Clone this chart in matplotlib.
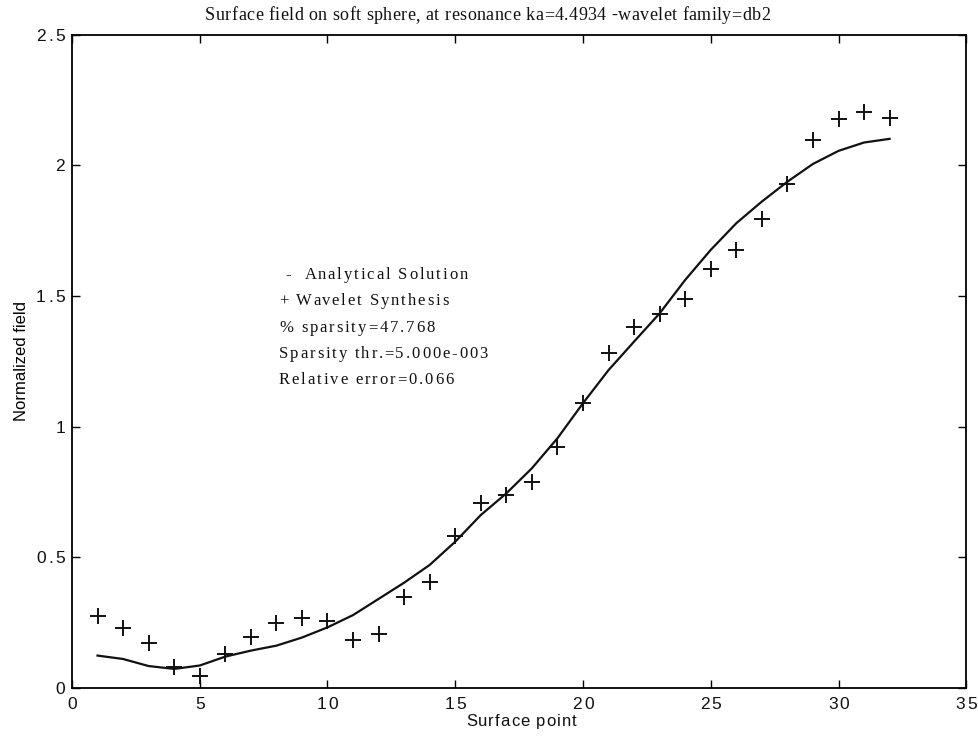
import numpy as np
import matplotlib.pyplot as plt
from matplotlib.font_manager import FontProperties
from matplotlib.transforms import offset_copy, IdentityTransform

# surface points 1..32
points = np.arange(1, 33)

# analytical solution (solid line)
analytical = [0.124, 0.111, 0.084, 0.073, 0.086, 0.120, 0.143, 0.162,
              0.193, 0.232, 0.279, 0.341, 0.403, 0.471, 0.560, 0.662,
              0.745, 0.841, 0.956, 1.090, 1.217, 1.326, 1.434, 1.562,
              1.677, 1.779, 1.862, 1.938, 2.006, 2.056, 2.088, 2.102]

# wavelet synthesis (+ markers)
wavelet = [0.276, 0.231, 0.171, 0.080, 0.046, 0.129, 0.196, 0.248,
           0.268, 0.256, 0.184, 0.208, 0.347, 0.407, 0.582, 0.707,
           0.739, 0.787, 0.924, 1.092, 1.281, 1.381, 1.431, 1.489,
           1.603, 1.677, 1.794, 1.930, 2.096, 2.178, 2.205, 2.183]

xticks = [0, 5, 10, 15, 20, 25, 30, 35]
yticks = [0, 0.5, 1, 1.5, 2, 2.5]
ytick_labels = ['0', '0.5', '1', '1.5', '2', '2.5']

info_lines = [" -  Analytical Solution",
              "+ Wavelet Synthesis",
              "% sparsity=47.768",
              "Sparsity thr.=5.000e-003",
              "Relative error=0.066"]

title = 'Surface field on soft sphere, at resonance ka=4.4934 -wavelet family=db2'

serif = FontProperties(family='Liberation Serif', size=12)
serif_t = FontProperties(family='Liberation Serif', size=13)
sans = FontProperties(family='Liberation Sans', size=12.5)
sans_l = FontProperties(family='Liberation Sans', size=12)

fig = plt.figure(figsize=(9.79, 7.42), dpi=100)
ax = fig.add_axes([0.0735, 0.0728, 0.9135, 0.8802])
renderer = fig.canvas.get_renderer()


def tw(s, fp):
    return renderer.get_text_width_height_descent(s, fp, ismath=False)


# old matlab export spreads the letters out, so place chars one by one
def spaced_text(x, y, s, fp, track, trans, ha='left', dx=0, dy=0):
    bar = tw('|', fp)[0]
    total = tw(s + '|', fp)[0] - bar + (len(s) - 1) * track
    shift = {'left': 0, 'center': -total / 2, 'right': -total}[ha]
    for i, ch in enumerate(s):
        if ch == ' ':
            continue
        w = tw(s[:i] + '|', fp)[0] - bar
        tr = offset_copy(trans, fig=fig, x=dx + shift + w + i * track, y=dy,
                         units='dots')
        fig.text(x, y, ch, fontproperties=fp, transform=tr, va='baseline',
                 ha='left', color='#111111')


ax.plot(points, analytical, color='#111111', lw=1.6)
ax.plot(points, wavelet, ls='none', marker='+', color='#111111',
        markersize=11.5, mew=1.4)

ax.set_xlim(0, 35)
ax.set_ylim(0, 2.5)
ax.set_xticks(xticks)
ax.set_yticks(yticks)
ax.tick_params(direction='in', length=6, width=1, top=True, right=True,
               labelbottom=False, labelleft=False)
for s in ax.spines.values():
    s.set_linewidth(1.3)

# tick labels drawn by hand so they get the same letter spacing
digit_h = tw('0', sans)[1]
xtr = ax.get_xaxis_transform()
ytr = ax.get_yaxis_transform()
for v in xticks:
    spaced_text(v, 0, str(v), sans, 1.8, xtr, ha='center', dy=-9 - digit_h)
for v, lab in zip(yticks, ytick_labels):
    spaced_text(0, v, lab, sans, 2.4, ytr, ha='right', dx=-7, dy=-digit_h / 2)

# x label
spaced_text(0.5, 0, 'Surface point', sans_l, 1.0, ax.transAxes, ha='center',
            dx=2, dy=-38)
ax.set_ylabel('Normalized field',
              fontproperties=FontProperties(family='Liberation Sans', size=12),
              labelpad=31)

# title, in pixels from the bottom-left of the figure
spaced_text(205, 742 - 20, title, serif_t, 0.45, IdentityTransform())

# info block in data coordinates
y0 = 1.585
for i, t in enumerate(info_lines):
    spaced_text(8.1, y0 - 0.02 - i * 0.1005, t, serif, 1.9, ax.transData)

fig.savefig('out.png', dpi=100)
